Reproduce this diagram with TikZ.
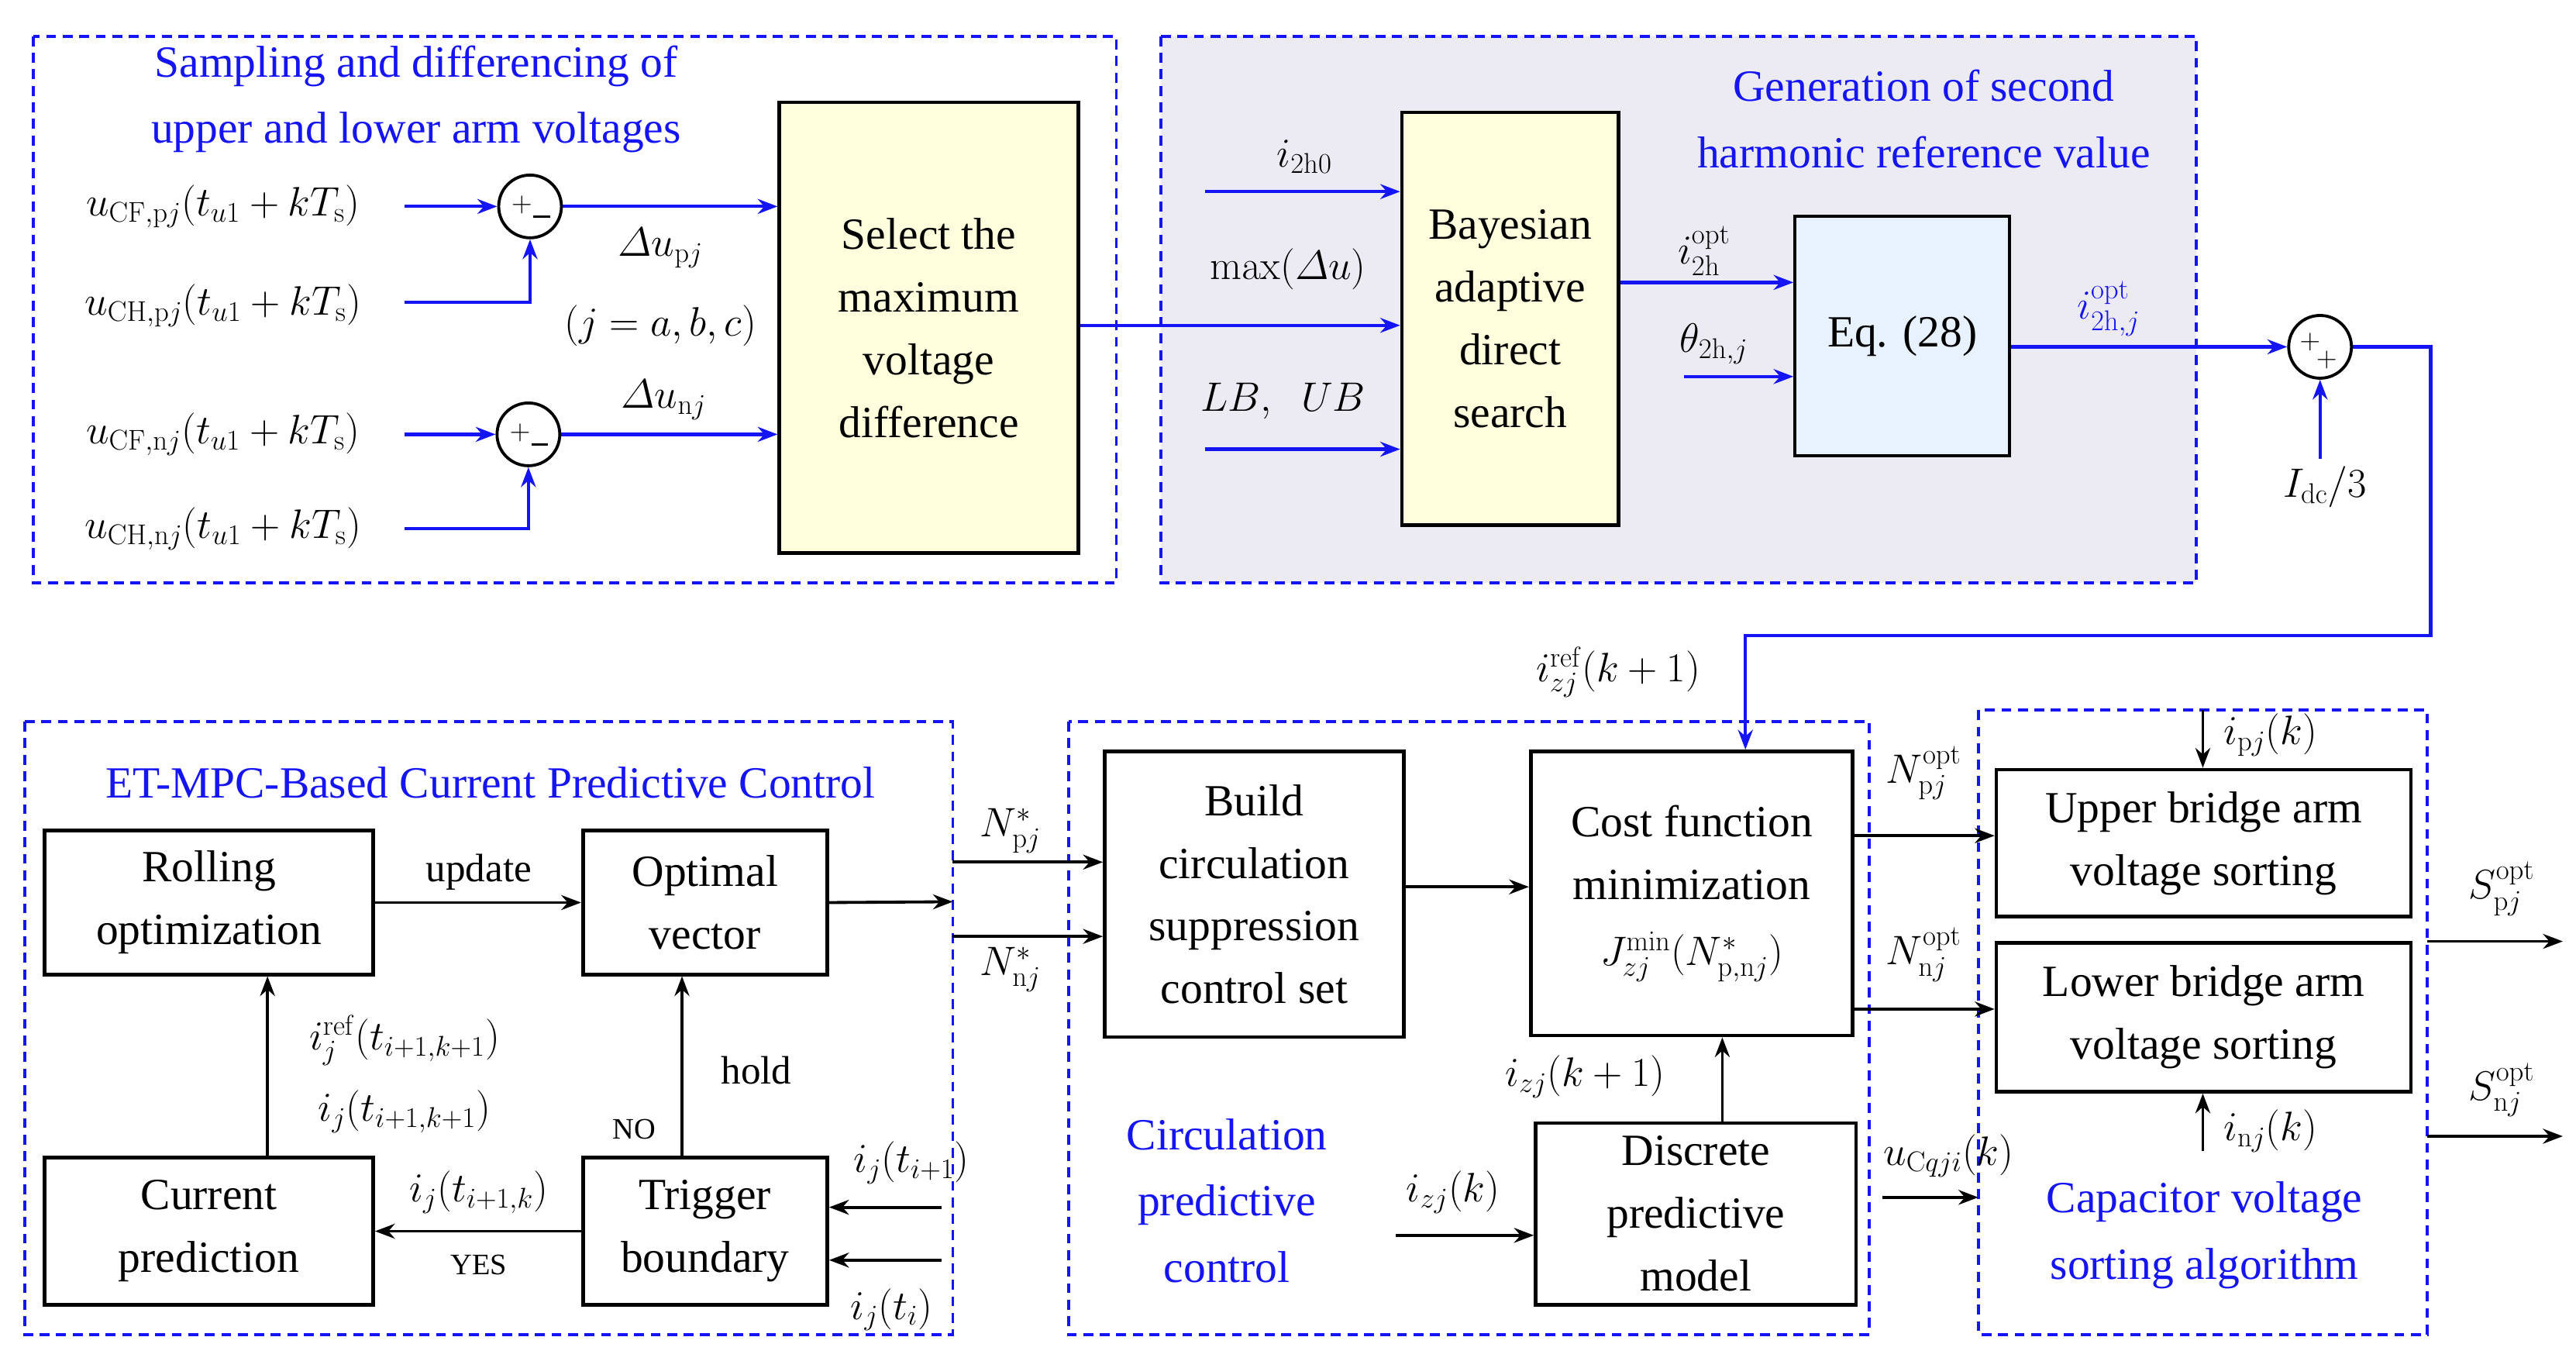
\documentclass[tikz,border=0pt]{standalone}
\usepackage{amsmath}
\usepackage[no-math]{fontspec}
\setmainfont{Liberation Serif}
\usetikzlibrary{arrows.meta,calc}
\definecolor{bl}{RGB}{20,20,245}
\definecolor{yel}{RGB}{255,255,222}
\definecolor{lb}{RGB}{232,242,255}
\definecolor{gr}{RGB}{236,234,242}
\begin{document}
\begin{tikzpicture}[x=1pt,y=-1pt,
 box/.style={draw,line width=2.2pt,align=center,inner sep=0pt,font=\fontsize{27}{38}\selectfont},
 dbox/.style={draw=bl,dashed,line width=1.8pt,dash pattern=on 6pt off 4pt},
 ttl/.style={text=bl,align=center,font=\fontsize{27}{40}\selectfont},
 lab/.style={font=\fontsize{24}{28}\selectfont},
 sm/.style={font=\fontsize{18}{20}\selectfont},
 sg/.style={font=\fontsize{16}{16}\selectfont,inner sep=0pt},
 ba/.style={draw=bl,line width=2pt,-{Stealth[length=12pt,width=9pt]}},
 ka/.style={draw=black,line width=1.8pt,-{Stealth[length=12pt,width=9pt]}},
 sum/.style={circle,draw,line width=1.8pt,minimum size=38pt,inner sep=0pt}]
\useasboundingbox (0,0) rectangle (1560,828);
% top boxes
\draw[dbox] (20,22) rectangle (676,353);
\draw[dbox,fill=gr] (703,22) rectangle (1330,353);
\node[ttl] (t1) at (252,60) {Sampling and differencing of\\upper and lower arm voltages};
\node[ttl] (t2) at (1165,72) {Generation of second\\harmonic reference value};
\node[box,fill=yel,minimum width=181pt,minimum height=273pt] (sel) at (562.5,198.5) {Select the\\maximum\\voltage\\difference};
\node[box,fill=yel,minimum width=131pt,minimum height=250pt] (bay) at (914.5,193) {Bayesian\\adaptive\\direct\\search};
\node[box,fill=lb,minimum width=130pt,minimum height=145pt,line width=1.8pt] (eq) at (1152,203.5) {Eq. (28)};
% sums
\node[sum] (s1) at (321,125) {};
\node[sum] (s2) at (320,263) {};
\node[sum] (s3) at (1405,210) {};
\foreach \s in {s1,s2}{
 \node[sg] at ($(s1.center)!0!(s1.center)+(\s.center)+(-5,-1)-(s1.center)$) {$+$};
 \draw[line width=1.5pt] ($(\s.center)+(2,6)$) -- ($(\s.center)+(12,6)$);}
\node[sg] at ($(s3.center)+(-6,-3)$) {$+$};
\node[sg] at ($(s3.center)+(4,8)$) {$+$};
% left labels
\node[lab] (u1) at (135,125) {$u_{\mathrm{CF,p}j}(t_{u1}+kT_{\mathrm s})$};
\node[lab] (u2) at (135,185) {$u_{\mathrm{CH,p}j}(t_{u1}+kT_{\mathrm s})$};
\node[lab] (u3) at (135,263) {$u_{\mathrm{CF,n}j}(t_{u1}+kT_{\mathrm s})$};
\node[lab] (u4) at (135,320) {$u_{\mathrm{CH,n}j}(t_{u1}+kT_{\mathrm s})$};
\draw[ba] (245,125) -- (s1);
\draw[ba] (245,183) -| (s1.south);
\draw[ba] (245,263) -- (s2);
\draw[ba] (245,320) -| (s2.south);
\draw[ba] (s1) -- (s1 -| sel.west);
\draw[ba] (s2) -- (s2 -| sel.west);
\node[lab] at (400,150) {$\varDelta u_{\mathrm{p}j}$};
\node[lab] at (400,197) {$(j=a,b,c)$};
\node[lab] at (402,242) {$\varDelta u_{\mathrm{n}j}$};
\draw[ba] (sel.east |- 0,197) -- (bay.west |- 0,197);
\node[lab] at (780,163) {$\max(\varDelta u)$};
\draw[ba] (730,116) -- (bay.west |- 0,116);
\node[lab] at (790,95) {$i_{\mathrm{2h0}}$};
\draw[ba] (730,272) -- (bay.west |- 0,272);
\node[lab] at (777,243) {$LB,\;\; UB$};
\draw[ba] (bay.east |- 0,171) -- (eq.west |- 0,171);
\node[lab] at (1032,152) {$i_{\mathrm{2h}}^{\mathrm{opt}}$};
\draw[ba] (1020,228) -- (eq.west |- 0,228);
\node[lab] at (1038,208) {$\theta_{\mathrm{2h},j}$};
\draw[ba] (eq.east |- s3) -- (s3);
\node[lab,text=bl] at (1277,187) {$i_{\mathrm{2h},j}^{\mathrm{opt}}$};
\node[lab] (idc) at (1408,295) {$I_{\mathrm{dc}}/3$};
\draw[ba] (1405,278) -- (s3.south);
% bottom boxes
\draw[dbox] (15,437) rectangle (577,808);
\draw[dbox] (647,437) rectangle (1132,808);
\draw[dbox] (1198,430) rectangle (1470,808);
\node[ttl] at (297,474) {ET-MPC-Based Current Predictive Control};
\node[box,minimum width=199pt,minimum height=87pt] (rol) at (126.5,546.5) {Rolling\\optimization};
\node[box,minimum width=148pt,minimum height=87pt] (opt) at (427,546.5) {Optimal\\vector};
\node[box,minimum width=199pt,minimum height=89pt] (cur) at (126.5,745.5) {Current\\prediction};
\node[box,minimum width=148pt,minimum height=89pt] (tri) at (427,745.5) {Trigger\\boundary};
\node[box,minimum width=181pt,minimum height=173pt] (bui) at (759.5,541.5) {Build\\circulation\\suppression\\control set};
\node[box,minimum width=195pt,minimum height=172pt] (cost) at (1024.5,541) {Cost function\\minimization\\[2pt]{\fontsize{24}{28}\selectfont$J_{zj}^{\min}(N_{\mathrm{p,n}j}^{*})$}};
\node[box,minimum width=194pt,minimum height=110pt] (dis) at (1027,735) {Discrete\\predictive\\model};
\node[box,minimum width=251pt,minimum height=89pt] (up) at (1334.5,510.5) {Upper bridge arm\\voltage sorting};
\node[box,minimum width=251pt,minimum height=90pt] (lo) at (1334.5,616) {Lower bridge arm\\voltage sorting};
% feedback connector
\coordinate (c1) at (1472,385);
\draw[ba] (s3.east) -| (c1) -| (cost.north -| 1057,0);
\node[lab] at (980,407) {$i_{zj}^{\mathrm{ref}}(k+1)$};
% ET-MPC connectors
\draw[ka] (rol.east) -- (opt.west);
\node[lab] at (290,528) {update};
\draw[ka] (cur.north -| 162,0) -- (rol.south -| 162,0);
\node[lab] at (245,630) {$i_j^{\mathrm{ref}}(t_{i+1,k+1})$};
\node[lab] at (245,673) {$i_j(t_{i+1,k+1})$};
\draw[ka] (tri.north -| 413,0) -- (opt.south -| 413,0);
\node[lab] at (458,648) {hold};
\node[sm] at (384,684) {NO};
\draw[ka] (tri.west) -- (cur.east);
\node[lab] at (290,722) {$i_j(t_{i+1,k})$};
\node[sm] at (290,766) {YES};
\draw[ka] (570,731) -- (tri.east |- 0,731);
\draw[ka] (570,763) -- (tri.east |- 0,763);
\node[lab] at (552,704) {$i_j(t_{i+1})$};
\node[lab] at (540,793) {$i_j(t_i)$};
\draw[ka] (opt.east) -- (577,546);
% middle
\draw[ka] (577,522) -- (bui.west |- 0,522);
\draw[ka] (577,567) -- (bui.west |- 0,567);
\node[lab] at (612,503) {$N_{\mathrm{p}j}^{*}$};
\node[lab] at (612,587) {$N_{\mathrm{n}j}^{*}$};
\draw[ka] (bui.east |- 0,537) -- (cost.west |- 0,537);
\draw[ka] (dis.north -| 1043,0) -- (cost.south -| 1043,0);
\node[lab] at (960,652) {$i_{zj}(k+1)$};
\draw[ka] (845,748) -- (dis.west |- 0,748);
\node[lab] at (880,722) {$i_{zj}(k)$};
\node[ttl] at (743,727) {Circulation\\predictive\\control};
% right
\draw[ka] (cost.east |- 0,506) -- (up.west |- 0,506);
\draw[ka] (cost.east |- 0,611) -- (lo.west |- 0,611);
\node[lab] at (1165,468) {$N_{\mathrm{p}j}^{\mathrm{opt}}$};
\node[lab] at (1165,578) {$N_{\mathrm{n}j}^{\mathrm{opt}}$};
\draw[ka] (1334,430) -- (up.north -| 1334,0);
\node[lab] at (1375,445) {$i_{\mathrm{p}j}(k)$};
\draw[ka] (1334,697) -- (lo.south -| 1334,0);
\node[lab] at (1375,685) {$i_{\mathrm{n}j}(k)$};
\draw[ka] (1140,725) -- (1198,725);
\node[lab] at (1180,700) {$u_{\mathrm{C}qji}(k)$};
\node[ttl] at (1335,748) {Capacitor voltage\\sorting algorithm};
\draw[ka] (1470,570) -- (1552,570);
\draw[ka] (1470,688) -- (1552,688);
\node[lab] at (1515,538) {$S_{\mathrm{p}j}^{\mathrm{opt}}$};
\node[lab] at (1515,660) {$S_{\mathrm{n}j}^{\mathrm{opt}}$};
\end{tikzpicture}
\end{document}
